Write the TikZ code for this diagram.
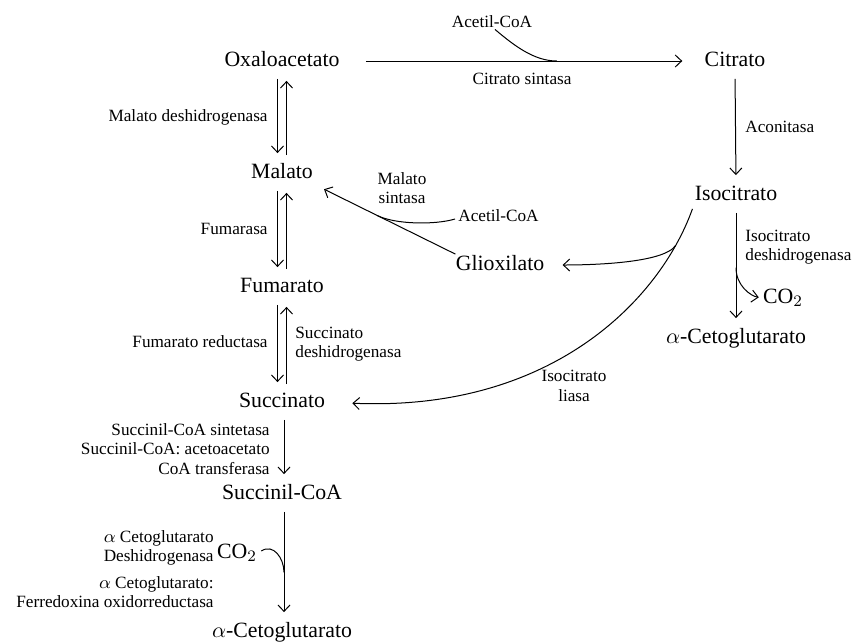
\documentclass[tikz,border=0pt]{standalone}
\usepackage{fontspec}
\setmainfont{Liberation Serif}
\usetikzlibrary{arrows.meta,calc}
\tikzset{
  met/.style={font=\fontsize{10.9}{13}\selectfont, inner sep=0pt, text height=8pt, text depth=2.5pt},
  enz/.style={font=\fontsize{8.6}{9.8}\selectfont, inner sep=0pt},
  flecha/.style={-{Straight Barb[length=3.2pt,width=6pt]}, line width=0.5pt},
  linea/.style={line width=0.5pt},
  vert/.style={flecha, shorten <=3.5pt, shorten >=4.5pt},
}
\begin{document}
\begin{tikzpicture}[x=0.5pt,y=-0.5pt]
    \useasboundingbox (0,0) rectangle (855,643);
    % metabolitos
    \node[met] (oxalo) at (282,61) {Oxaloacetato};
    \node[met] (citrato) at (735,61) {Citrato};
    \node[met] (malato) at (282,173) {Malato};
    \node[met] (isocit) at (736,195) {Isocitrato};
    \node[met] (gliox) at (500,265) {Glioxilato};
    \node[met] (fumarato) at (282,287) {Fumarato};
    \node[met] (co2a) at (783,298) {CO$_2$};
    \node[met] (akga) at (736,338) {$\alpha$-Cetoglutarato};
    \node[met] (succ) at (282,402) {Succinato};
    \node[met] (succoa) at (282,494) {Succinil-CoA};
    \node[met] (co2b) at (237,553) {CO$_2$};
    \node[met] (akgb) at (282,632) {$\alpha$-Cetoglutarato};
    \node[enz] (acoa1) at (492,22) {Acetil-CoA};
    \node[enz, anchor=west] (acoa2) at (458,216) {Acetil-CoA};

    % enzimas
    \node[enz] (ecs) at (522,79) {Citrato sintasa};
    \node[enz, anchor=east] (emdh) at (268,117) {Malato deshidrogenasa};
    \node[enz, anchor=west] (eacon) at (745,127) {Aconitasa};
    \node[enz, align=center] (ems) at (402,188) {Malato\\sintasa};
    \node[enz, anchor=east] (efum) at (268,229) {Fumarasa};
    \node[enz, anchor=west, align=left] (eidh) at (745,247) {Isocitrato\\deshidrogenasa};
    \node[enz, anchor=east] (efr) at (268,342) {Fumarato reductasa};
    \node[enz, anchor=west, align=left] (esdh) at (295,344) {Succinato\\deshidrogenasa};
    \node[enz, align=center] (eil) at (574,386) {Isocitrato\\liasa};
    \node[enz, anchor=east, align=right] (escs) at (270,449) {Succinil-CoA sintetasa\\Succinil-CoA: acetoacetato\\CoA transferasa};
    \node[enz, anchor=east, align=right] (eakg) at (214,548) {$\alpha$ Cetoglutarato\\Deshidrogenasa};
    \node[enz, anchor=east, align=right] (efor) at (214,592) {$\alpha$ Cetoglutarato:\\Ferredoxina oxidorreductasa};

    % ciclo
    \draw[flecha, shorten <=13pt, shorten >=11pt] (oxalo.east) -- coordinate[pos=0.595] (j1) (citrato.west);
    \draw[linea] ($(acoa1.south)+(3,1)$) .. controls +(20,17) and +(-22,0) .. (j1);
    \draw[vert] (citrato.south) -- (isocit.north);
    \draw[vert] ([xshift=-2.25pt]oxalo.south) -- ([xshift=-2.25pt]malato.north);
    \draw[vert] ([xshift=2.25pt]malato.north) -- ([xshift=2.25pt]oxalo.south);
    \draw[vert] ([xshift=-2.25pt]malato.south) -- ([xshift=-2.25pt]fumarato.north);
    \draw[vert] ([xshift=2.25pt]fumarato.north) -- ([xshift=2.25pt]malato.south);
    \draw[vert] ([xshift=-2.25pt]fumarato.south) -- ([xshift=-2.25pt]succ.north);
    \draw[vert] ([xshift=2.25pt]succ.north) -- ([xshift=2.25pt]fumarato.south);
    \draw[vert] ([xshift=1pt]succ.south) -- ([xshift=1pt]succoa.north);
    \draw[vert] ([xshift=1pt]succoa.south) -- coordinate[pos=0.58] (j3) ([xshift=1pt]akgb.north);
    \draw[linea] ($(co2b.east)+(4,-2)$) .. controls +(12,-8) and +(0,-14) .. (j3);
    \draw[vert] (isocit.south) -- coordinate[pos=0.51] (jc) (akga.north);
    \draw[flecha, shorten >=2pt] (jc) .. controls +(0,18) and +(-12,-2) .. (co2a.west);

    % derivacion del glioxilato
    \draw[flecha, shorten >=6pt] (gliox.north west) -- coordinate[pos=0.55] (j2) (malato.south east);
    \draw[linea] ($(acoa2.west)+(-3,3)$) .. controls +(-20,6) and +(18,9) .. (j2);
    \draw[flecha, shorten >=13.5pt] ($(isocit.south west)+(-2,3)$) .. controls +(-33,92) and +(225,10) .. coordinate[pos=0.13] (jg) (succ.east);
    \draw[flecha, shorten >=9pt] (jg) .. controls +(-12,18) and +(45,0) .. (gliox.east);
\end{tikzpicture}
\end{document}
